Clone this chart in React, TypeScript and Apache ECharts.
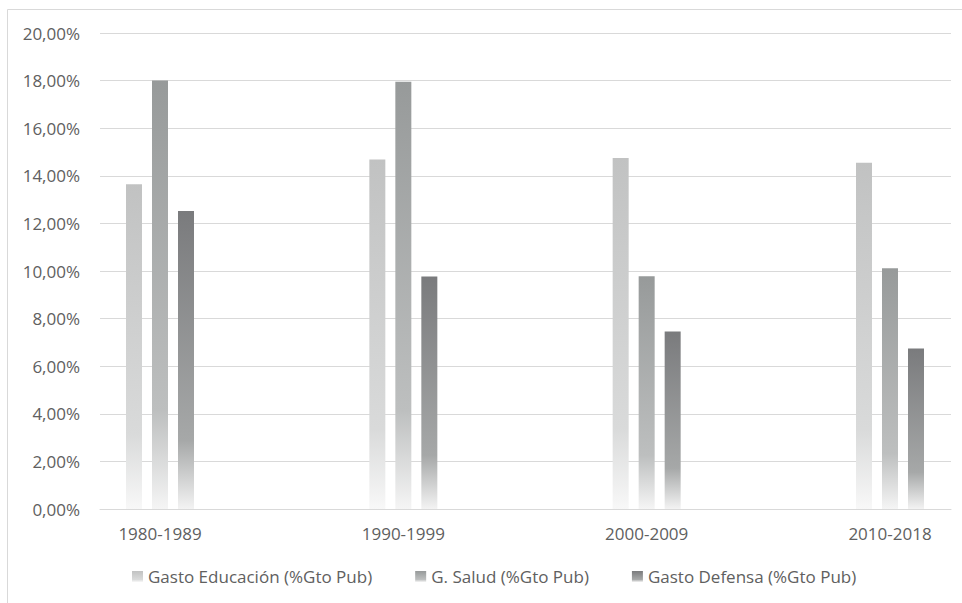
import React, { useEffect, useRef } from "react";
import * as echarts from "echarts";

const categories = ["1980-1989", "1990-1999", "2000-2009", "2010-2018"];
const educacion = [13.65, 14.68, 14.75, 14.55];
const salud = [18.0, 17.95, 9.78, 10.12];
const defensa = [12.52, 9.77, 7.46, 6.74];
const seriesNames = [
  "Gasto Educación (%Gto Pub)",
  "G. Salud (%Gto Pub)",
  "Gasto Defensa (%Gto Pub)",
];
const yMax = 20;
const yStep = 2;

const FONT = "'Open Sans', sans-serif";
const TEXT = "#606060";
const GRID = "#d9d9d9";

function grad(top: string, mid: string, bottom: string) {
  return new echarts.graphic.LinearGradient(0, 0, 0, 1, [
    { offset: 0, color: top },
    { offset: 0.77, color: mid },
    { offset: 1, color: bottom },
  ]);
}

export default function App() {
  const ref = useRef<HTMLDivElement>(null);
  useEffect(() => {
    if (!ref.current) return;
    const chart = echarts.init(ref.current, undefined, { renderer: "svg" });
    const colors = [
      grad("#c1c2c2", "#d9dada", "#f8f8f8"),
      grad("#979a9a", "#bdbfbf", "#f5f5f5"),
      grad("#7a7b7d", "#a6a8a8", "#f3f3f3"),
    ];
    const datasets = [educacion, salud, defensa];
    chart.setOption({
      animation: false,
      backgroundColor: "#ffffff",
      textStyle: { fontFamily: FONT },
      graphic: [
        {
          type: "rect",
          silent: true,
          shape: { x: 7.5, y: 9.5, width: 1000, height: 700 },
          style: { fill: "none", stroke: GRID, lineWidth: 1 },
        },
      ],
      legend: {
        left: 132,
        top: 568,
        padding: 0,
        itemWidth: 11,
        itemHeight: 11,
        itemGap: 43,
        icon: "rect",
        textStyle: { color: TEXT, fontSize: 17, fontFamily: FONT },
        data: seriesNames,
      },
      grid: [
        { left: 100, right: 11, top: 33, bottom: 94 },
        { left: 160, right: 72, top: 33, bottom: 94 },
      ],
      xAxis: [
        {
          gridIndex: 0,
          type: "value",
          min: 0,
          max: 1,
          axisLine: { show: true, lineStyle: { color: GRID, width: 1 } },
          axisTick: { show: false },
          axisLabel: { show: false },
          splitLine: { show: false },
        },
        {
          gridIndex: 1,
          type: "category",
          boundaryGap: false,
          data: categories,
          axisLine: { show: false },
          axisTick: { show: false },
          axisLabel: { color: TEXT, fontSize: 17, fontFamily: FONT, margin: 16 },
        },
      ],
      yAxis: [
        {
          gridIndex: 0,
          type: "value",
          min: 0,
          max: yMax,
          interval: yStep,
          axisLine: { show: false },
          axisTick: { show: false },
          axisLabel: {
            color: TEXT,
            fontSize: 17,
            fontFamily: FONT,
            margin: 20,
            formatter: (v: number) => v.toFixed(2).replace(".", ",") + "%",
          },
          splitLine: { lineStyle: { color: GRID, width: 1 } },
        },
        {
          gridIndex: 1,
          type: "value",
          min: 0,
          max: yMax,
          interval: yStep,
          show: false,
          splitLine: { show: false },
        },
      ],
      series: seriesNames.map((name, i) => ({
        name,
        type: "bar",
        xAxisIndex: 1,
        yAxisIndex: 1,
        data: datasets[i],
        barWidth: 16,
        barGap: "62.5%",
        itemStyle: { color: colors[i] },
      })),
    });
    return () => chart.dispose();
  }, []);
  return (
    <div
      ref={ref}
      style={{ position: "fixed", left: 0, top: 0, width: 962, height: 603 }}
    />
  );
}
